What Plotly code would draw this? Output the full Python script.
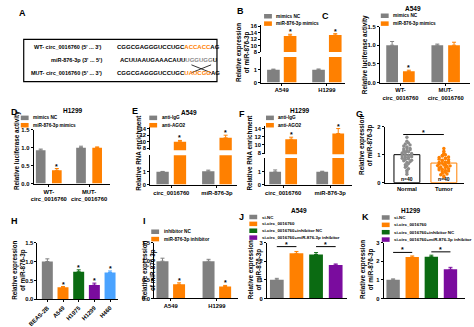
import numpy as np
import plotly.graph_objects as go

# ---------------- data ----------------
b_cats = ["A549", "H1299"]
b_nc, b_nc_err = [1.0, 1.0], [0.05, 0.06]
b_mim, b_mim_err = [13.0, 13.3], [0.5, 0.4]

luc_cats = ["WT-<br>circ_0016760", "MUT-<br>circ_0016760"]
c_nc, c_nc_err = [1.0, 1.0], [0.1, 0.03]
c_mim, c_mim_err = [0.3, 1.0], [0.03, 0.08]
d_nc, d_nc_err = [0.93, 1.0], [0.03, 0.04]
d_mim, d_mim_err = [0.37, 1.0], [0.05, 0.02]

rip_cats = ["circ_0016760", "miR-876-3p"]
e_igg, e_igg_err = [1.0, 1.05], [0.03, 0.08]
e_ago, e_ago_err = [10.0, 11.2], [0.4, 0.8]
f_igg, f_igg_err = [1.0, 1.0], [0.15, 0.05]
f_ago, f_ago_err = [11.4, 12.8], [0.5, 1.2]

g_cats = ["Normal", "Tumor"]
g_mean = [1.0, 0.7]
g_normal = [1.02, 1.48, 0.87, 1.31, 0.55, 1.13, 0.95, 1.62, 0.78, 1.2,
            0.3, 1.06, 1.38, 0.91, 0.64, 1.25, 0.99, 0.44, 1.15, 0.83,
            1.42, 0.72, 1.08, 0.97, 1.28, 0.6, 1.18, 0.89, 0.38, 1.35,
            1.0, 0.75, 1.22, 0.5, 1.1, 0.93, 0.68, 1.04, 0.85, 0.8]
g_tumor = [0.72, 1.22, 0.46, 0.9, 0.61, 0.34, 0.84, 1.05, 0.56, 0.78,
           0.2, 0.95, 0.67, 0.4, 0.88, 0.52, 1.12, 0.63, 0.28, 0.8,
           0.97, 0.48, 0.74, 0.37, 0.69, 1.0, 0.58, 0.24, 0.86, 0.44,
           0.76, 0.31, 0.92, 0.54, 0.65, 0.42, 0.82, 0.6, 0.5, 0.7]
g_n = ["n=40", "n=40"]

h_cats = ["BEAS-2B", "A549", "H1975", "H1299", "H460"]
h_vals = [1.0, 0.32, 0.73, 0.38, 0.71]
h_err = [0.07, 0.02, 0.05, 0.05, 0.04]

i_cats = ["A549", "H1299"]
i_nc, i_nc_err = [1.0, 1.0], [0.08, 0.05]
i_inh, i_inh_err = [0.38, 0.32], [0.04, 0.03]

jk_groups = ["si-NC", "si-circ_0016760", "si-circ_0016760+inhibitor NC",
             "si-circ_0016760+miR-876-3p inhibitor"]
j_vals, j_err = [1.0, 2.42, 2.36, 1.8], [0.08, 0.1, 0.1, 0.05]
k_vals, k_err = [1.0, 2.22, 2.24, 1.57], [0.05, 0.06, 0.08, 0.1]

mimic_labels = ["mimics NC", "miR-876-3p mimics"]
rip_labels = ["anti-IgG", "anti-AGO2"]
inh_labels = ["inhibitor NC", "miR-876-3p inhibitor"]

# ---------------- styles ----------------
W, H = 474, 327
FONT = "Liberation Sans, Arial, sans-serif"
GRAY = "#808080"
ORANGE = "#FF8000"
GREEN = "#0B6B12"
PURPLE = "#7A0C9E"
BLUE = "#4AA3FF"
TICKFONT = dict(family=FONT, size=5.8, color="black", weight="bold")
LEGEND_SIZE = 4.7

fig = go.Figure()
layout = {}
shapes, annotations = [], []
counter = {"x": 0, "y": 0}


def fx(px):
    return px / W


def fy(py):
    return 1 - py / H


def next_suffix(kind):
    counter[kind] += 1
    return "" if counter[kind] == 1 else str(counter[kind])


def yaxis_dict(ytop, ybot, yr, yticks, sx):
    return dict(domain=[fy(ybot), fy(ytop)], range=yr, anchor="x" + sx,
                showline=True, linecolor="black", linewidth=1, showgrid=False,
                zeroline=False, ticks="outside", ticklen=2, tickwidth=1,
                tickcolor="black", tickvals=yticks, tickfont=TICKFONT,
                fixedrange=True)


def panel(x0, x1, ytop, ybot, xr, yr, yticks, xticks=None, xtext=None,
          tickangle=0, xticklen=2):
    sx, sy = next_suffix("x"), next_suffix("y")
    layout["xaxis" + sx] = dict(
        domain=[fx(x0), fx(x1)], range=xr, anchor="y" + sy, showline=True,
        linecolor="black", linewidth=1, showgrid=False, zeroline=False,
        ticks="outside" if xticklen else "", ticklen=xticklen, tickwidth=1,
        tickcolor="black", tickvals=xticks if xticks is not None else [],
        ticktext=xtext if xtext is not None else [], tickangle=tickangle,
        tickfont=TICKFONT, fixedrange=True)
    layout["yaxis" + sy] = yaxis_dict(ytop, ybot, yr, yticks, sx)
    return sx, sy


def upper(sx, ytop, ybot, yr, yticks):
    sy = next_suffix("y")
    layout["yaxis" + sy] = yaxis_dict(ytop, ybot, yr, yticks, sx)
    return sy


def bars(sx, sy, xs, ys, errs, colors, width):
    fig.add_trace(go.Bar(
        x=list(xs), y=ys, width=width,
        marker=dict(color=colors, line=dict(width=0)),
        error_y=dict(type="data", symmetric=False, array=errs,
                     arrayminus=[0] * len(errs),
                     color=colors if isinstance(colors, str) else "black",
                     thickness=1, width=2),
        xaxis="x" + sx, yaxis="y" + sy, showlegend=False, hoverinfo="skip"))


def star(sx, sy, x, y):
    annotations.append(dict(x=x, y=y, xref="x" + sx, yref="y" + sy, text="*",
                            showarrow=False, yanchor="bottom", yshift=-3,
                            font=dict(family=FONT, size=7, color="black",
                                      weight="bold")))


def text(px, py, s, size=6, xanchor="center", angle=0, color="black"):
    annotations.append(dict(x=fx(px), y=fy(py), xref="paper", yref="paper",
                            text=s, showarrow=False, xanchor=xanchor,
                            yanchor="middle", textangle=angle,
                            font=dict(family=FONT, size=size, color=color,
                                      weight="bold")))


def legend(px, pys, labels, colors, size=LEGEND_SIZE):
    for py, lab, col in zip(pys, labels, colors):
        shapes.append(dict(type="rect", xref="paper", yref="paper",
                           x0=fx(px), x1=fx(px + 8), y0=fy(py + 2.3),
                           y1=fy(py - 2.3), fillcolor=col, line=dict(width=0)))
        text(px + 10.5, py, lab, size=size, xanchor="left")


def sig(sx, sy, xa, xb, y):
    shapes.append(dict(type="line", xref="x" + sx, yref="y" + sy, x0=xa,
                       x1=xb, y0=y, y1=y, line=dict(color="black", width=1)))
    star(sx, sy, (xa + xb) / 2, y)


def paired(sx, sy, a, a_err, b, b_err, off, w, stars_b):
    pos = np.arange(len(a))
    bars(sx, sy, pos - off, a, a_err, GRAY, w)
    bars(sx, sy, pos + off, b, b_err, ORANGE, w)
    for i in stars_b:
        star(sx, sy, pos[i] + off, b[i] + b_err[i])


# ---------------- A: binding sites ----------------
text(14, 10, "A", size=9)
shapes.append(dict(type="rect", xref="paper", yref="paper", x0=fx(15),
                   x1=fx(212), y0=fy(80), y1=fy(37),
                   line=dict(color="black", width=1.2)))
text(97, 44.5, "WT- circ_0016760 (5' ... 3')", size=5.5, xanchor="right")
text(97, 58, "miR-876-3p (3' ... 5')", size=5.5, xanchor="right")
text(97, 71.5, "MUT- circ_0016760 (5' ... 3')", size=5.5, xanchor="right")
text(108, 44.5, "CGGCGAGGGUCCUGC<span style='color:#FF8000'>ACCACC</span>AG",
     size=6, xanchor="left")
text(111, 58, "ACUUAAUGAAACAUU<span style='color:#8a8a8a'>UGGUGG</span>U",
     size=6, xanchor="left")
text(108, 71.5, "CGGCGAGGGUCCUGC<span style='color:#FF8000'>UAUCGG</span>AG",
     size=6, xanchor="left")
for (xa, ya, xb, yb) in [(186, 63, 206, 71), (186, 71, 206, 63)]:
    shapes.append(dict(type="line", xref="paper", yref="paper", x0=fx(xa),
                       y0=fy(ya), x1=fx(xb), y1=fy(yb),
                       line=dict(color="black", width=0.8)))

# ---------------- B: mimics, broken axis ----------------
text(236, 8, "B", size=9)
sx, sy = panel(257, 342, 55, 81, [-0.457, 1.39], [0, 2], [0, 1],
               [0, 1], b_cats)
syu = upper(sx, 22, 50, [8, 16.5], [8, 10, 12, 14, 16])
for yy in (sy, syu):
    paired(sx, yy, b_nc, b_nc_err, b_mim, b_mim_err, 0.185, 0.28,
           [0, 1] if yy == syu else [])
legend(260, [13.5, 21], mimic_labels, [GRAY, ORANGE])
text(238.5, 50, "Relative expression<br>of miR-876-3p", size=6.3, angle=-90)

# ---------------- C: luciferase A549 ----------------
text(323, 13, "C", size=9)
text(412, 6, "A549", size=6.5)
sx, sy = panel(378, 470, 24, 81, [-0.457, 1.54], [0, 1.5],
               [0, 0.5, 1.0, 1.5], [0, 1], luc_cats)
layout["yaxis" + sy]["ticktext"] = ["0.0", "0.5", "1.0", "1.5"]
paired(sx, sy, c_nc, c_nc_err, c_mim, c_mim_err, 0.185, 0.26, [0])
legend(379, [13, 21], mimic_labels, [GRAY, ORANGE])
text(363, 53, "Relative luciferase activity", size=6.3, angle=-90)

# ---------------- D: luciferase H1299 ----------------
text(6, 111, "D", size=9)
text(65, 110, "H1299", size=6.5)
sx, sy = panel(25, 103, 129, 184, [-0.378, 1.52], [0, 1.5],
               [0, 0.5, 1.0, 1.5], [0, 1], luc_cats)
layout["yaxis" + sy]["ticktext"] = ["0.0", "0.5", "1.0", "1.5"]
paired(sx, sy, d_nc, d_nc_err, d_mim, d_mim_err, 0.2, 0.24, [0])
legend(12, [117, 124.5], mimic_labels, [GRAY, ORANGE])
text(8, 150, "Relative luciferase activity", size=6.3, angle=-90)

# ---------------- E: RIP A549, broken axis ----------------
text(128, 110, "E", size=9)
text(183, 112, "A549", size=6.5)
sx, sy = panel(144, 232, 155, 185, [-0.46, 1.43], [0, 2.3], [0, 1],
               [0, 1], rip_cats)
syu = upper(sx, 126, 150, [7.4, 14.6], [8, 10, 12, 14])
for yy in (sy, syu):
    paired(sx, yy, e_igg, e_igg_err, e_ago, e_ago_err, 0.19, 0.27,
           [0, 1] if yy == syu else [])
legend(143, [117, 124.5], rip_labels, [GRAY, ORANGE])
text(132, 152, "Relative RNA enrichment", size=6.3, angle=-90)

# ---------------- F: RIP H1299, broken axis ----------------
text(238, 113, "F", size=9)
text(297, 110, "H1299", size=6.5)
sx, sy = panel(261, 350, 158, 185, [-0.385, 1.47], [0, 2.08], [0, 1],
               [0, 1], rip_cats)
syu = upper(sx, 125, 154, [7.76, 14.7], [8, 10, 12, 14])
for yy in (sy, syu):
    paired(sx, yy, f_igg, f_igg_err, f_ago, f_ago_err, 0.17, 0.25,
           [0, 1] if yy == syu else [])
legend(262, [117, 124.5], rip_labels, [GRAY, ORANGE])
text(245, 152, "Relative RNA enrichment", size=6.3, angle=-90)

# ---------------- G: tissues ----------------
text(357, 113, "G", size=9)
sx, sy = panel(383, 464, 126, 183, [-0.6, 1.55], [0, 2], [0, 1, 2],
               [0, 1], g_cats, xticklen=0)
fig.add_trace(go.Bar(x=[0, 1], y=g_mean, width=0.7,
                     marker=dict(color="white",
                                 line=dict(color=["black", ORANGE], width=1)),
                     xaxis="x" + sx, yaxis="y" + sy, showlegend=False,
                     hoverinfo="skip"))


def swarm(vals, center, bin_h=0.08, dx=0.085):
    vals = np.asarray(vals)
    bins = np.floor(vals / bin_h).astype(int)
    xs = np.zeros(len(vals))
    for b in np.unique(bins):
        idx = np.where(bins == b)[0]
        xs[idx] = center + (np.arange(len(idx)) - (len(idx) - 1) / 2) * dx
    return xs


for i, (pts, col) in enumerate([(g_normal, "#8c8c8c"), (g_tumor, ORANGE)]):
    fig.add_trace(go.Scatter(x=swarm(pts, i), y=pts, mode="markers",
                             marker=dict(size=3.4, color=col,
                                         line=dict(width=0)),
                             xaxis="x" + sx, yaxis="y" + sy,
                             showlegend=False, hoverinfo="skip"))
    annotations.append(dict(x=i, y=0.12, xref="x" + sx, yref="y" + sy,
                            text=g_n[i], showarrow=False,
                            font=dict(family=FONT, size=5, color="black",
                                      weight="bold")))
sig(sx, sy, -0.1, 1.0, 1.72)
text(364.5, 145, "Relative expression<br>of miR-876-3p", size=6.3, angle=-90)

# ---------------- H: cell lines ----------------
text(6, 222, "H", size=9)
sx, sy = panel(29, 111, 244, 302, [-0.63, 4.5], [0, 1.5],
               [0, 0.5, 1.0, 1.5], list(range(5)), h_cats, tickangle=-45)
layout["yaxis" + sy]["ticktext"] = ["0.0", "0.5", "1.0", "1.5"]
h_cols = [GRAY, ORANGE, GREEN, PURPLE, BLUE]
for i in range(len(h_cats)):
    bars(sx, sy, [i], [h_vals[i]], [h_err[i]], h_cols[i], 0.7)
    if i > 0:
        star(sx, sy, i, h_vals[i] + h_err[i])
text(10, 272, "Relative expression<br>of miR-876-3p", size=6.3, angle=-90)

# ---------------- I: inhibitor ----------------
text(138, 222, "I", size=9)
sx, sy = panel(148, 233, 244, 301, [-0.36, 1.45], [0, 1.5],
               [0, 0.5, 1.0, 1.5], [0, 1], i_cats)
layout["yaxis" + sy]["ticktext"] = ["0.0", "0.5", "1.0", "1.5"]
paired(sx, sy, i_nc, i_nc_err, i_inh, i_inh_err, 0.18, 0.26, [0, 1])
legend(145, [233, 240.5], inh_labels, [GRAY, ORANGE])
text(142.5, 272, "Relative expression<br>of miR-876-3p", size=6.3, angle=-90)

# ---------------- J / K: rescue ----------------
jk_cols = [GRAY, ORANGE, GREEN, PURPLE]
for (lx, tx, title, letx, ax0, ax1, xr, vals, errs, lys, sigs, ytx) in [
        (245, 296, "A549", 237, 263, 345, [-0.5, 3.6], j_vals, j_err,
         [218, 225, 232, 239], [(0, 1, 2.78), (2, 3, 2.78)], 251),
        (380, 410, "H1299", 363, 382, 465, [-0.49, 3.77], k_vals, k_err,
         [218.5, 226, 233.5, 241], [(0, 1, 2.47), (2, 3, 2.5)], 365)]:
    text(letx, 218, "J" if title == "A549" else "K", size=9)
    text(tx, 211, title, size=6.5)
    sx, sy = panel(ax0, ax1, 244, 301, xr, [0, 3], [0, 1, 2, 3],
                   [], [], xticklen=0)
    for i in range(len(jk_groups)):
        bars(sx, sy, [i], [vals[i]], [errs[i]], jk_cols[i], 0.7)
    for a, b, yv in sigs:
        sig(sx, sy, a, b, yv)
    legend(lx, lys, jk_groups, jk_cols, size=4.4)
    text(ytx, 272, "Relative expression<br>of miR-876-3p", size=6.3,
         angle=-90)

fig.update_layout(
    width=W, height=H, margin=dict(l=0, r=0, t=0, b=0),
    paper_bgcolor="white", plot_bgcolor="rgba(0,0,0,0)",
    barmode="overlay", showlegend=False, font=dict(family=FONT),
    shapes=shapes, annotations=annotations, **layout)
fig.write_html("out.html")
